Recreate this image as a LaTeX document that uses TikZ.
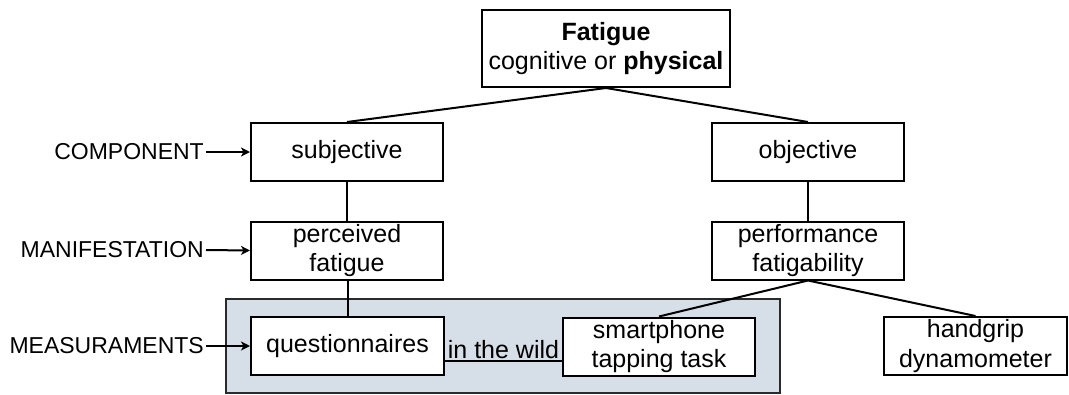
\documentclass[tikz,border=0pt]{standalone}
\usepackage{fontspec}
\setmainfont{Liberation Sans}
\usetikzlibrary{arrows.meta}
\definecolor{wildfill}{HTML}{D6DEE7}
\definecolor{wildedge}{HTML}{2A2A2A}
\newcommand{\boxfont}{\fontsize{25}{29.5}\selectfont}
\newcommand{\rowfont}{\fontsize{23}{27.5}\selectfont}
\tikzset{
  box/.style={draw=black, line width=2pt, fill=white, inner sep=0pt,
    minimum width=192pt, minimum height=58pt, align=center, font=\boxfont},
  rowlabel/.style={inner sep=2pt, anchor=east, font=\rowfont},
  link/.style={line width=2pt, draw=black},
  pointer/.style={line width=2pt, draw=black,
    -{Stealth[length=9pt, width=9pt, inset=2.5pt]}},
  wildarea/.style={draw=wildedge, fill=wildfill, line width=2pt, inner sep=0pt}
}
\begin{document}
\begin{tikzpicture}[x=1pt, y=-1pt]
  \useasboundingbox (0,0) rectangle (1069,394);

  % grey area holding the in-the-wild measurements
  \node[wildarea, minimum width=554pt, minimum height=94pt] (area) at (503,346) {};

  % hierarchy boxes
  \node[box, minimum width=248pt, minimum height=77pt] (fat) at (606,48.5)
    {\textbf{Fatigue}\\cognitive or \textbf{physical}};
  \node[box] (subj) at (347,152) {subjective};
  \node[box] (obj)  at (808,152) {objective};
  \node[box] (perc) at (347,250.5) {perceived\\fatigue};
  \node[box] (perf) at (808,250.5) {performance\\fatigability};
  \node[box, minimum width=193pt] (quest) at (347.5,346) {questionnaires};
  \node[box] (smart) at (659,346.5) {smartphone\\tapping task};
  \node[box, minimum width=183pt] (grip) at (975.5,346) {handgrip\\dynamometer};

  % row labels on the left
  \node[rowlabel] (comp) at (206,152) {COMPONENT};
  \node[rowlabel] (mani) at (206,250) {MANIFESTATION};
  \node[rowlabel] (meas) at (206,346) {MEASURAMENTS};

  % tree links
  \draw[link] (fat.south) -- (subj.north);
  \draw[link] (fat.south) -- (obj.north);
  \draw[link] (subj.south) -- (perc.north);
  \draw[link] (obj.south) -- (perf.north);
  \draw[link] (perc.south -| quest.north) -- (quest.north);
  \draw[link] (perf.south) -- (smart.north);
  \draw[link] (perf.south) -- (grip.north);

  % link between the two measurements, drawn low in the boxes
  \coordinate (qw) at ([yshift=-15pt]quest.east);
  \draw[link] (qw) -- (qw -| smart.west)
    node[midway, above, inner sep=1.5pt, font=\boxfont] (wildlbl) {in the wild};

  % row label pointers
  \draw[pointer] (comp.east) -- (subj.west);
  \draw[pointer] (mani.east) -- (perc.west);
  \draw[pointer] (meas.east) -- (quest.west);
\end{tikzpicture}
\end{document}
